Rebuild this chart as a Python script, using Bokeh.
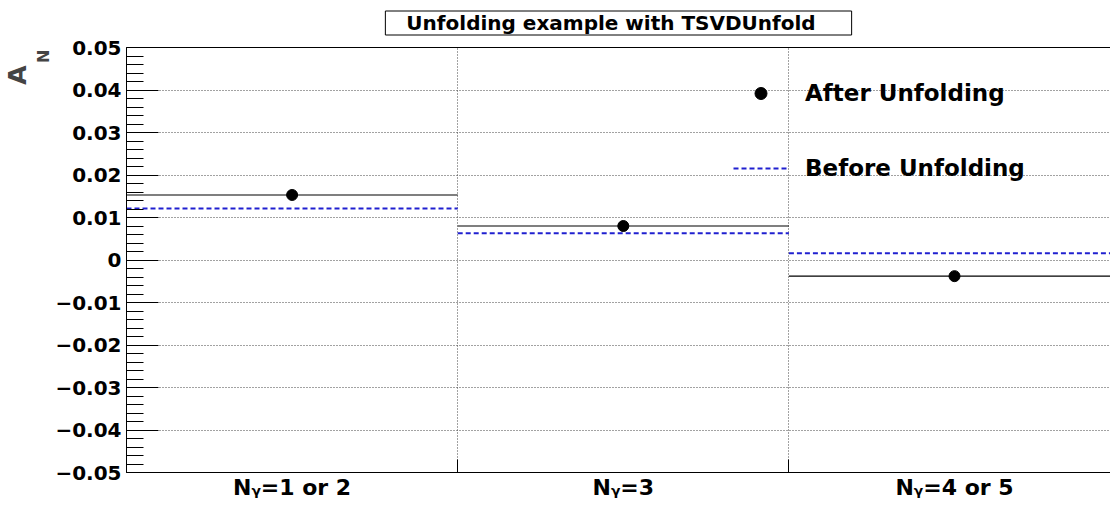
import numpy as np
from bokeh.plotting import figure
from bokeh.models import (Range1d, FixedTicker, LinearAxis, Legend, LegendItem,
                          ColumnDataSource, Title)
from bokeh.embed import file_html
from bokeh.resources import INLINE

# ---- data ----
bin_left = [0, 1, 2]
bin_right = [1, 2, 3]
bin_center = [0.5, 1.5, 2.5]
categories = ["1 or 2", "3", "4 or 5"]
after_unfolding = [0.0153, 0.0080, -0.0038]
before_unfolding = [0.0121, 0.0063, 0.0016]
ytick_values = [-0.05, -0.04, -0.03, -0.02, -0.01, 0.0, 0.01, 0.02, 0.03, 0.04, 0.05]
ytick_labels = ["\u22120.05", "\u22120.04", "\u22120.03", "\u22120.02", "\u22120.01", "0",
                "0.01", "0.02", "0.03", "0.04", "0.05"]
bin_edges = [0, 1, 2, 3]
title_text = "Unfolding example with TSVDUnfold"

FONT = "DejaVu Sans"

p = figure(width=1110, height=508, x_range=Range1d(0, 2.971), y_range=Range1d(-0.05, 0.05),
           output_backend="svg", toolbar_location=None,
           min_border_left=125, min_border_right=0, min_border_top=45, min_border_bottom=36,
           x_axis_location=None, y_axis_location=None)
p.outline_line_color = None
p.background_fill_color = "white"

# y axis
yaxis = LinearAxis()
yaxis.ticker = FixedTicker(ticks=ytick_values,
                           minor_ticks=[round(v, 4) for v in np.arange(-0.05, 0.0501, 0.002)])
yaxis.major_label_overrides = {v: s for v, s in zip(ytick_values, ytick_labels)}
yaxis.major_tick_in = 32
yaxis.major_tick_out = 0
yaxis.minor_tick_in = 17
yaxis.minor_tick_out = 0
yaxis.major_label_standoff = 5
yaxis.major_label_text_font = FONT
yaxis.major_label_text_font_style = "bold"
yaxis.major_label_text_font_size = "20px"
yaxis.major_label_text_color = "black"
yaxis.axis_line_color = "black"
yaxis.major_tick_line_color = "black"
yaxis.minor_tick_line_color = "black"
p.add_layout(yaxis, "left")

# y axis title A_N (subscript as a second, smaller title)
p.add_layout(Title(text="N", align="right", offset=2, standoff=0,
                   text_font=FONT, text_font_style="bold", text_font_size="16px"), "left")
p.add_layout(Title(text="A", align="right", offset=18, standoff=0,
                   text_font=FONT, text_font_style="bold", text_font_size="25px"), "left")

# x axis: labels at bin centres, ticks at bin edges
xaxis = LinearAxis()
xaxis.ticker = FixedTicker(ticks=bin_center, minor_ticks=bin_edges)
xaxis.major_label_overrides = {c: "N\u1d67=" + cat for c, cat in zip(bin_center, categories)}
xaxis.major_tick_in = 0
xaxis.major_tick_out = 0
xaxis.minor_tick_in = 13
xaxis.minor_tick_out = 0
xaxis.major_label_standoff = 2
xaxis.major_label_text_font = FONT
xaxis.major_label_text_font_style = "bold"
xaxis.major_label_text_font_size = "22px"
xaxis.major_label_text_color = "black"
xaxis.axis_line_color = "black"
xaxis.minor_tick_line_color = "black"
p.add_layout(xaxis, "below")

# top frame line
top = LinearAxis()
top.ticker = FixedTicker(ticks=[], minor_ticks=[])
top.major_label_text_font_size = "0px"
top.major_tick_in = 0
top.major_tick_out = 0
top.minor_tick_in = 0
top.minor_tick_out = 0
top.major_label_standoff = 0
top.axis_line_color = "black"
p.add_layout(top, "above")

# boxed title
p.add_layout(Title(text=title_text, align="center", vertical_align="top",
                   offset=24, standoff=21,
                   text_font=FONT, text_font_style="bold", text_font_size="20px",
                   text_color="black", border_line_color="black", border_line_width=1,
                   background_fill_color="white",
                   padding=dict(left=21, right=36, top=0, bottom=0)), "above")

# grids
p.xgrid.ticker = FixedTicker(ticks=bin_edges)
p.ygrid.ticker = FixedTicker(ticks=ytick_values)
for g in (p.xgrid, p.ygrid):
    g.grid_line_color = "#444444"
    g.grid_line_dash = "1 2"
    g.grid_line_width = 1

src = ColumnDataSource(dict(x0=bin_left, x1=bin_right, xc=bin_center,
                            after=after_unfolding, before=before_unfolding))

r_before = p.segment(x0="x0", x1="x1", y0="before", y1="before", source=src,
                     line_color="#2020d0", line_width=2, line_dash="5 3")
r_after_line = p.segment(x0="x0", x1="x1", y0="after", y1="after", source=src,
                         line_color="black", line_width=1.2)
r_after = p.scatter(x="xc", y="after", source=src, marker="circle", size=11,
                    fill_color="black", line_color="black")

legend = Legend(items=[LegendItem(label="After Unfolding", renderers=[r_after]),
                       LegendItem(label="Before Unfolding", renderers=[r_before])],
                location=(607, 289), padding=0, margin=0, spacing=45,
                glyph_width=55, glyph_height=30, label_standoff=17,
                label_text_font=FONT, label_text_font_style="bold",
                label_text_font_size="23px", label_text_color="black",
                background_fill_alpha=0, border_line_alpha=0)
p.add_layout(legend)

open("out.html", "w").write(file_html(p, INLINE))
